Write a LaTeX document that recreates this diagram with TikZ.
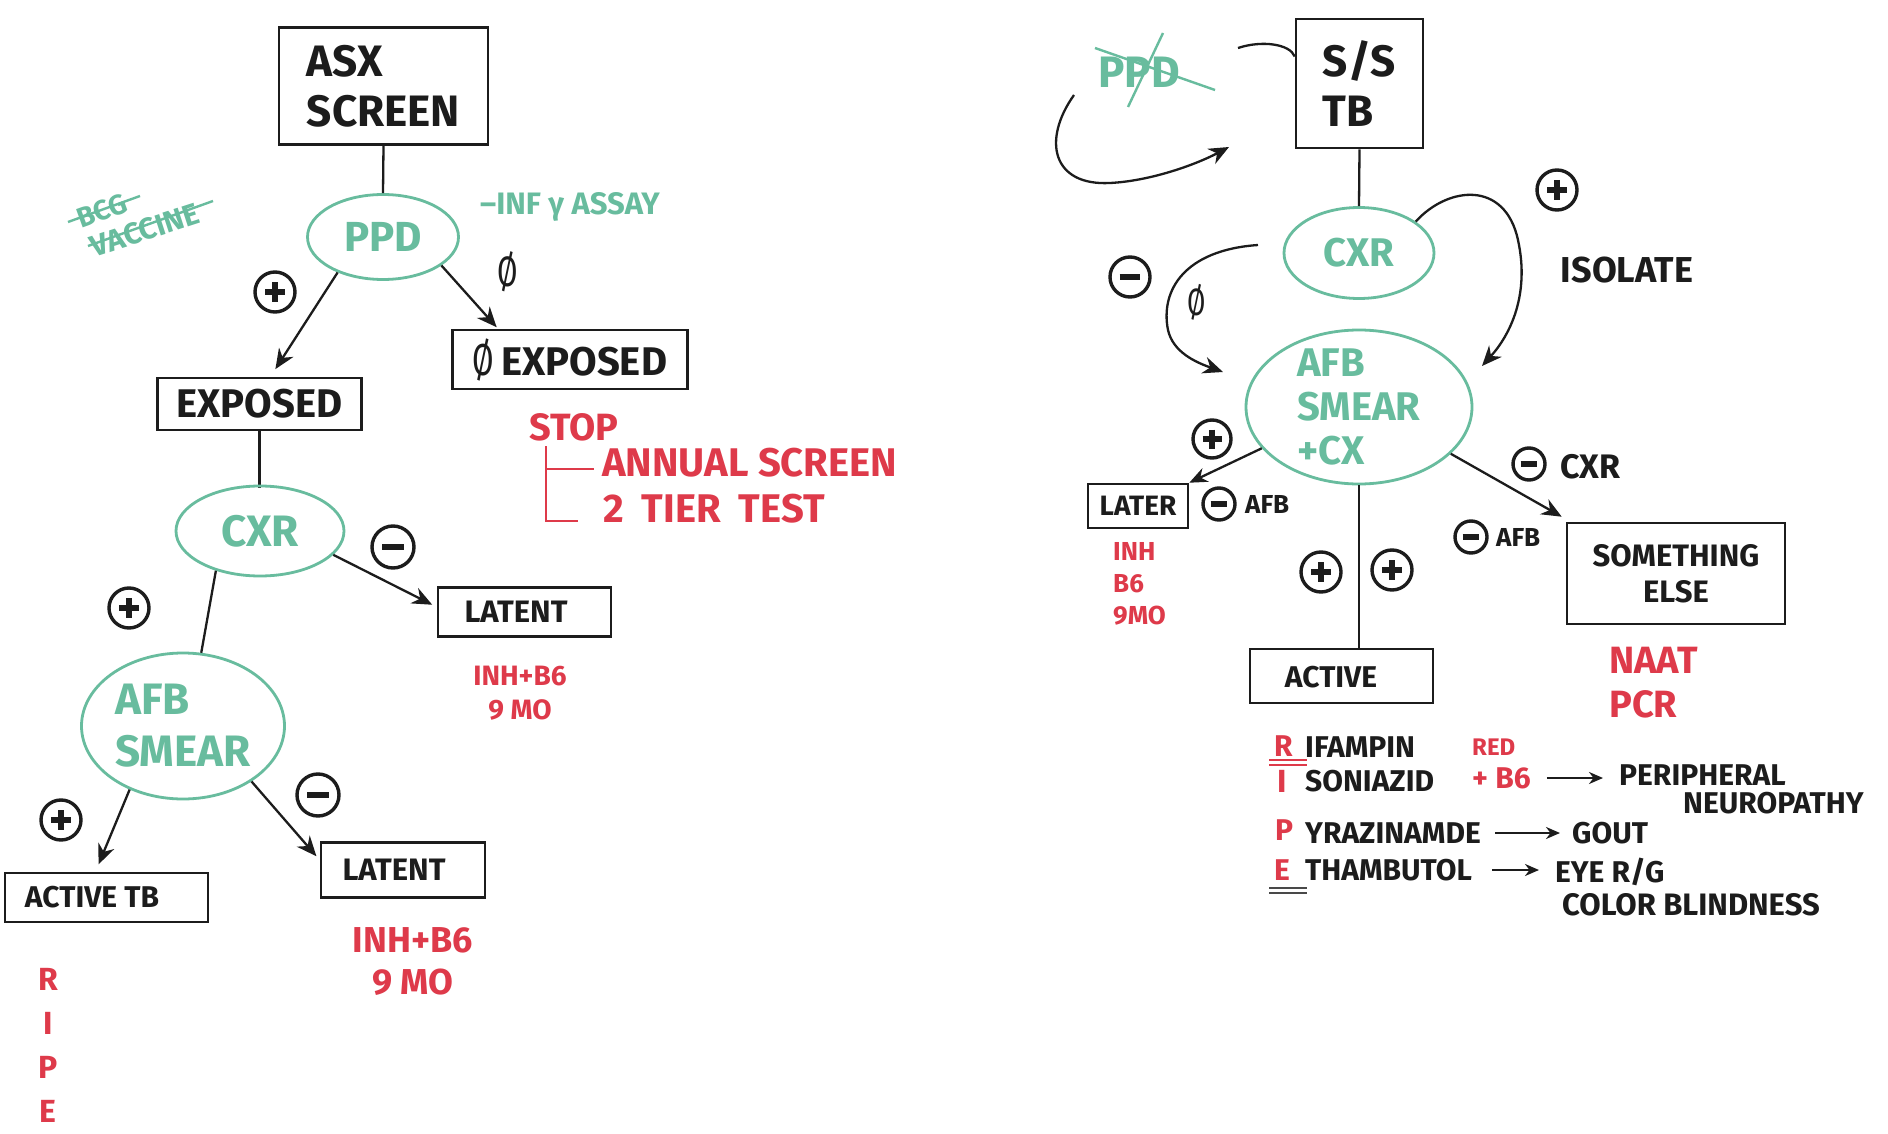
\documentclass[tikz,border=0pt]{standalone}
\usepackage{fontspec}
\setmainfont{Fira Sans}
\usetikzlibrary{shapes.geometric,arrows.meta,calc}
\definecolor{tbgreen}{RGB}{104,188,158}
\definecolor{tbred}{RGB}{222,58,74}
\definecolor{ink}{RGB}{28,28,28}
\newcommand\plusmark[3]{%
  \node[sign,minimum size=#3pt] (#1) at (#2) {};
  \draw[ink,line width=5.5pt] ($(#1.center)+(-0.25*#3,0)$) -- ($(#1.center)+(0.25*#3,0)$);
  \draw[ink,line width=5.5pt] ($(#1.center)+(0,-0.25*#3)$) -- ($(#1.center)+(0,0.25*#3)$);}
\newcommand\minusmark[3]{%
  \node[sign,minimum size=#3pt] (#1) at (#2) {};
  \draw[ink,line width=5.5pt] ($(#1.center)+(-0.26*#3,0)$) -- ($(#1.center)+(0.26*#3,0)$);}
\newcommand\nullmark{\scalebox{0.78}[1.12]{\mdseries Ø}}
\begin{document}
\begin{tikzpicture}[x=1pt,y=-1pt,
  box/.style={rectangle,draw=ink,line width=2.6pt,inner sep=0pt},
  ell/.style={ellipse,draw=tbgreen,line width=2.8pt,inner sep=0pt},
  fs/.style 2 args={font=\fontsize{#1}{#2}\selectfont\bfseries},
  blk/.style={text=ink,inner sep=0pt},
  grn/.style={text=tbgreen,inner sep=0pt},
  rd/.style={text=tbred,inner sep=0pt},
  conn/.style={draw=ink,line width=2.3pt},
  arr/.style={conn,-{Stealth[length=20pt,width=17pt]}},
  sarr/.style={conn,-{Stealth[length=14pt,width=12pt]}},
  sign/.style={circle,draw=ink,line width=3.4pt,inner sep=0pt},
  strike/.style={draw=tbgreen,line width=2.4pt}
]
\fill[white] (0,0) rectangle (1888,1134);
\useasboundingbox (0,0) rectangle (1888,1134);

% ================= LEFT TREE =================
\node[box,blk,fs={44}{50},align=left,minimum width=209pt,minimum height=117pt] (asx) at (383.5,86) {ASX\\SCREEN};
\node[ell,minimum width=151pt,minimum height=85pt] (ppd) at (383,237) {};
\node[grn,fs={42}{48}] (ppdt) at (ppd) {PPD};
\draw[conn] (asx.south) -- (ppd.north);

% BCG vaccine (struck out)
\node[grn,fs={28}{30},rotate=20] (bcg) at (102,211) {BCG};
\node[grn,fs={30}{32},rotate=18] (vac) at (145,230) {VACCINE};
\draw[strike] (68,222) -- (140,196);
\draw[strike] (88,246) -- (213,201);

\node[grn,fs={31}{34},anchor=west] (inf) at (480,207) {–INF γ ASSAY};

\node[box,blk,fs={40}{46},minimum width=204pt,minimum height=52pt] (exposed) at (259.5,404) {EXPOSED};
\node[box,blk,fs={40}{46},minimum width=235pt,minimum height=59pt] (oexp) at (570,359.5) {\nullmark\,EXPOSED};

\plusmark{p1}{275,292}{40}
\node[blk,fs={38}{40}] (o1) at (508,272) {\nullmark};
\draw[arr,shorten >=9pt] (ppd.218) -- ([xshift=11pt]exposed.north);
\draw[arr,shorten >=2pt] (ppd.334) -- ([xshift=-72pt]oexp.north);

% STOP
\node[rd,fs={38}{42}] (stop) at (574,427) {STOP};
\draw[tbred,line width=2.5pt] (546,446) -- (546,521) -- (578,521);
\draw[tbred,line width=2.5pt] (546,469) -- (594,469);
\node[rd,fs={40}{44},anchor=west] (annual) at (602,463) {ANNUAL SCREEN};
\node[rd,fs={40}{44},anchor=west] (tier) at (603,509) {2\hspace{0.45em}TIER\hspace{0.45em}TEST};

\draw[conn] (exposed.south) -- ++(0,57) coordinate (cxrtop);
\node[ell,minimum width=168pt,minimum height=90pt] (cxr1) at (260,531) {};
\node[grn,fs={44}{48}] at (cxr1) {CXR};

\minusmark{m1}{393,547}{42}
\node[box,minimum width=173pt,minimum height=49pt] (latent1) at (524.5,612) {};
\node[blk,fs={31}{36}] at (516,612) {LATENT};
\draw[arr,shorten >=5pt] (cxr1.342) -- ([yshift=5pt]latent1.west);
\node[rd,fs={28}{34},align=center] (inh1) at (520,693) {INH+B6\\9 MO};

\plusmark{p2}{129,608}{40}
\node[ell,minimum width=203pt,minimum height=146pt] (afb1) at (183,726) {};
\node[grn,fs={44}{52},align=left] at (afb1) {AFB\\SMEAR};
\draw[conn] (cxr1.222) -- (afb1.76);

\plusmark{p3}{61,820}{40}
\minusmark{m2}{318,795}{42}
\node[box,minimum width=203pt,minimum height=49pt] (activetb) at (106.5,897.5) {};
\node[blk,fs={30}{34}] at (92,897.5) {ACTIVE TB};
\node[box,minimum width=164pt,minimum height=55pt] (latent2) at (403,870) {};
\node[blk,fs={31}{36}] at (394,870) {LATENT};
\draw[arr,shorten >=8pt] (afb1.230) -- ([xshift=-11pt]activetb.north);
\draw[arr,shorten >=5pt] (afb1.321) -- ([yshift=10pt]latent2.west);

\node[rd,fs={36}{42},align=center] (inh2) at (413,962) {INH+B6\\9 MO};
\node[rd,fs={32}{44},align=center] (ripe1) at (48,1045) {R\\I\\P\\E};

% ================= RIGHT TREE =================
\node[box,blk,fs={44}{50},align=left,minimum width=127pt,minimum height=129pt] (ss) at (1359.5,83.5) {S/S\\TB};
\node[grn,fs={44}{48}] (ppd2) at (1139,72) {PPD};
\draw[strike] (1095,48) -- (1215,90);
\draw[strike] (1163,33) -- (1128,107);
\draw[conn] (1238,48) .. controls (1262,40) and (1290,44) .. ([yshift=27pt]ss.west);
\draw[conn,-{Stealth[length=20pt,width=17pt]}] (1074,95) .. controls (1042,140) and (1052,186) .. (1110,183) .. controls (1150,181) and (1195,165) .. (1229,147);

\node[ell,minimum width=150pt,minimum height=91pt] (cxr2) at (1359,253) {};
\node[grn,fs={40}{44}] at (cxr2) {CXR};
\draw[conn] (ss.south) -- (cxr2.north);

\node[ell,minimum width=226pt,minimum height=154pt] (afb2) at (1359,407) {};
\node[grn,fs={40}{44},align=left] at (afb2) {AFB\\SMEAR\\+CX};

\plusmark{p4}{1557,190}{40}
\node[blk,fs={36}{40}] (isolate) at (1627,270) {ISOLATE};
\coordinate (isoend) at (1482,366);
\draw[arr] (cxr2.29) .. controls (1448,186) and (1505,180) .. (1518,240) .. controls (1530,295) and (1510,335) .. (isoend);

\minusmark{m3}{1130,277}{40}
\node[blk,fs={34}{36}] (o2) at (1197,302) {\nullmark};
\coordinate (negstart) at (1258,245);
\coordinate (negend) at (1223,372);
\draw[arr] (negstart) .. controls (1185,250) and (1160,290) .. (1168,330) .. controls (1173,352) and (1195,362) .. (negend);

\plusmark{p5}{1212,439}{38}
\node[box,blk,fs={28}{32},minimum width=100pt,minimum height=44pt] (later) at (1138,506) {LATER};
\draw[sarr,-{Stealth[length=18pt,width=15pt]}] (afb2.203) -- (later.north east);
\minusmark{m4}{1219,504}{32}
\node[blk,fs={26}{30},anchor=west] (afbl) at (1245,504) {AFB};
\node[rd,fs={26}{32},align=left,anchor=north west] (inh3) at (1113,542) {INH\\B6\\9MO};

\minusmark{m5}{1529,464}{32}
\node[blk,fs={34}{38},anchor=west] (cxrl) at (1560,467) {CXR};
\node[box,blk,fs={31}{36},align=center,minimum width=218pt,minimum height=101pt] (something) at (1676,573.5) {SOMETHING\\ELSE};
\draw[arr] (afb2.333) -- ([xshift=-4pt,yshift=5pt]something.north west);
\minusmark{m6}{1471,537}{32}
\node[blk,fs={26}{30},anchor=west] (afbr) at (1496,537) {AFB};
\node[rd,fs={38}{44},align=left,anchor=west] (naat) at (1609,683) {NAAT\\PCR};

\node[box,minimum width=183pt,minimum height=54pt] (active) at (1341.5,676) {};
\node[blk,fs={30}{34}] at (1331,677) {ACTIVE};
\draw[conn] (afb2.south) -- (afb2.south |- active.north);
\plusmark{p6}{1321,572}{40}
\plusmark{p7}{1392,570}{40}

% RIPE list
\node[rd,fs={30}{34},anchor=west] (rR) at (1274,746) {R};
\node[blk,fs={30}{34},anchor=west] (rif) at (1305,747) {IFAMPIN};
\node[rd,fs={32}{34},anchor=west] (rI) at (1277,781) {I};
\node[blk,fs={30}{34},anchor=west] (inz) at (1305,781) {SONIAZID};
\node[rd,fs={30}{34},anchor=west] (rP) at (1275,830) {P};
\node[blk,fs={30}{34},anchor=west] (pyr) at (1305,833) {YRAZINAMDE};
\node[rd,fs={30}{34},anchor=west] (rE) at (1274,870) {E};
\node[blk,fs={30}{34},anchor=west] (eth) at (1305,870) {THAMBUTOL};
\draw[tbred,line width=2pt] (1269,760) -- (1307,760) (1269,765) -- (1307,765);
\draw[ink!80,line width=2pt] (1269,888) -- (1307,888) (1269,893) -- (1307,893);

\node[rd,fs={24}{28},anchor=west] (red) at (1472,747) {RED};
\node[rd,fs={30}{34},anchor=west] (b6) at (1472,778) {+ B6};
\node[blk,fs={30}{34},anchor=west] (peri) at (1619,775) {PERIPHERAL};
\node[blk,fs={30}{34},anchor=west] (neuro) at (1683,803) {NEUROPATHY};
\draw[sarr,shorten <=16pt,shorten >=16pt] (b6.east) -- (peri.west |- b6.east);
\node[blk,fs={30}{34},anchor=west] (gout) at (1572,833) {GOUT};
\draw[sarr,shorten <=14pt,shorten >=12pt] (pyr.east) -- (gout.west);
\node[blk,fs={30}{34},anchor=west] (eye) at (1555,872) {EYE R/G};
\draw[sarr,shorten <=20pt,shorten >=16pt] (eth.east) -- (eye.west |- eth.east);
\node[blk,fs={31}{34},anchor=west] (color) at (1562,905) {COLOR BLINDNESS};
\end{tikzpicture}
\end{document}
